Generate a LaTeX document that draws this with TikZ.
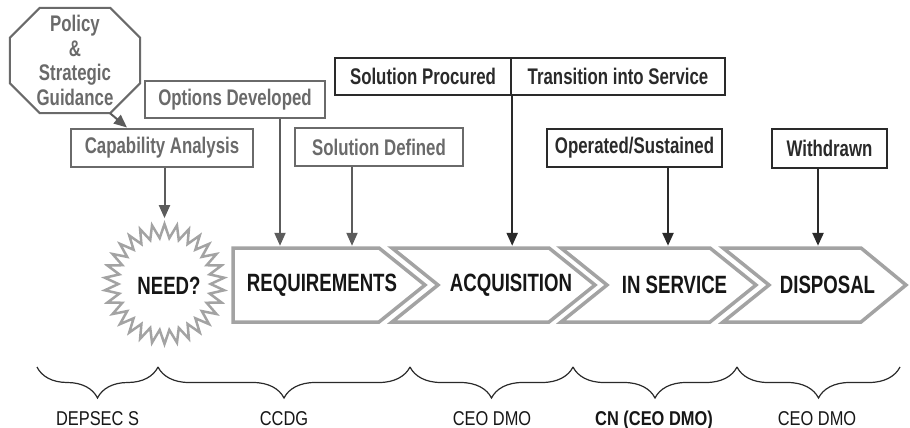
\documentclass[tikz,border=0pt]{standalone}
\usepackage{fontspec}
\setmainfont{Liberation Sans}
\newfontfamily\condfont{Liberation Sans}[FakeStretch=0.745]
\newfontfamily\ownerfont{Liberation Sans}[FakeStretch=0.82]
\usetikzlibrary{shapes.geometric,arrows.meta,decorations.pathreplacing,calc}

\definecolor{softgray}{HTML}{6A6A6A}
\definecolor{arrowgray}{HTML}{5C5C5C}
\definecolor{harddark}{HTML}{2A2A2A}
\definecolor{chevgray}{HTML}{A3A3A3}
\definecolor{inkdark}{HTML}{161616}

\tikzset{
  boxfont/.style={font=\condfont\bfseries\fontsize{22.6}{24.5}\selectfont},
  softbox/.style={boxfont, draw=softgray, line width=2pt, text=softgray, inner sep=0pt},
  hardbox/.style={boxfont, draw=harddark, line width=2.4pt, text=harddark, inner sep=0pt},
  softarrow/.style={draw=arrowgray, line width=2pt, shorten >=2pt,
    -{Triangle[width=11pt,length=13pt]}},
  hardarrow/.style={draw=harddark, line width=2.4pt, shorten >=2pt,
    -{Triangle[width=11pt,length=13pt]}},
  chevron/.style={draw=chevgray, line width=3.5pt, line join=miter, fill=white},
  phase/.style={font=\condfont\bfseries\fontsize{25}{28}\selectfont, text=inkdark,
    minimum height=74pt, inner sep=0pt},
  owner/.style={font=\ownerfont\fontsize{20}{22}\selectfont, text=inkdark, anchor=base},
  bracket/.style={draw=harddark, line width=1.2pt, decorate,
    decoration={brace, mirror, amplitude=31pt}}
}

\begin{document}
\begin{tikzpicture}[x=1pt, y=-1pt]
\useasboundingbox (0,0) rectangle (910,428);

% --- policy octagon ---
\node[boxfont, text=softgray, align=center, minimum width=130pt, minimum height=105pt,
      inner sep=0pt] (policy) at (75,60.5) {Policy\\\&\\Strategic\\Guidance};
\draw[draw=softgray, line width=2pt, line join=miter]
  ([xshift=30pt]policy.north west) -- ([xshift=-30pt]policy.north east)
  -- ([yshift=-30pt]policy.north east) -- ([yshift=30pt]policy.south east)
  -- ([xshift=-30pt]policy.south east) -- ([xshift=30pt]policy.south west)
  -- ([yshift=30pt]policy.south west) -- ([yshift=-30pt]policy.north west) -- cycle;

% --- activity boxes ---
\node[softbox, minimum width=182pt, minimum height=38pt] (cap) at (162,147.5) {Capability Analysis};
\node[softbox, minimum width=180pt, minimum height=37pt] (opt) at (235,99.5) {Options Developed};
\node[softbox, minimum width=168pt, minimum height=38pt] (sol) at (379,147) {Solution Defined};
\node[hardbox, minimum width=176pt, minimum height=37pt] (proc) at (423,76.5) {Solution Procured};
\node[hardbox, minimum width=214pt, minimum height=37pt] (trans) at (618,76.5) {Transition into Service};
\node[hardbox, minimum width=175pt, minimum height=38pt] (op) at (634.5,148) {Operated/Sustained};
\node[hardbox, minimum width=115pt, minimum height=39pt] (wd) at (829.5,148.5) {Withdrawn};

% --- life-cycle chevrons ---
\node[star, star points=30, star point ratio=1.3, minimum size=120pt, inner sep=0pt,
      draw=chevgray, line width=2.5pt, fill=white] (need) at (164.5,284) {};
\draw[chevron] (233,248) -- (379,248) -- (425,285) -- (379,322) -- (233,322) -- cycle;
\draw[chevron] (392,248) -- (549,248) -- (595,285) -- (549,322) -- (392,322) -- (438,285) -- cycle;
\draw[chevron] (561,248) -- (710,248) -- (756,285) -- (710,322) -- (561,322) -- (607,285) -- cycle;
\draw[chevron] (723,248) -- (861,248) -- (906,285) -- (861,322) -- (723,322) -- (769,285) -- cycle;

\node[phase] (needtext) at (169,286) {NEED?};
\node[phase] (req) at (322,285) {REQUIREMENTS};
\node[phase] (acq) at (511,285) {ACQUISITION};
\node[phase] (ins) at (674.5,285) {IN SERVICE};
\node[phase] (dis) at (827.5,285) {DISPOSAL};

% --- connectors ---
\draw[softarrow, shorten >=0pt] ([xshift=35pt]policy.south) -- ([xshift=-35pt]cap.north);
\draw[softarrow] (cap.south -| need.north) -- (need.north);
\draw[softarrow] ([xshift=45pt]opt.south) -- ([xshift=45pt]opt.south |- req.north);
\draw[softarrow] ([xshift=-27pt]sol.south) -- ([xshift=-27pt]sol.south |- req.north);
\draw[hardarrow] (proc.south east) -- (proc.south east |- acq.north);
\draw[hardarrow] ([xshift=33.5pt]op.south) -- ([xshift=33.5pt]op.south |- ins.north);
\draw[hardarrow] ([xshift=-11.5pt]wd.south) -- ([xshift=-11.5pt]wd.south |- dis.north);

% --- responsibility braces ---
\draw[bracket] (37,367) -- (158,367);
\draw[bracket] (158,367) -- (410,367);
\draw[bracket] (410,367) -- (573,367);
\draw[bracket] (573,367) -- (737,367);
\draw[bracket] (737,367) -- (900,367);

\node[owner] (o1) at (97.5,425) {DEPSEC S};
\node[owner] (o2) at (284,425) {CCDG};
\node[owner] (o3) at (492,425) {CEO DMO};
\node[owner, font=\ownerfont\bfseries\fontsize{20}{22}\selectfont] (o4) at (654,425) {CN (CEO DMO)};
\node[owner] (o5) at (817,425) {CEO DMO};
\end{tikzpicture}
\end{document}
